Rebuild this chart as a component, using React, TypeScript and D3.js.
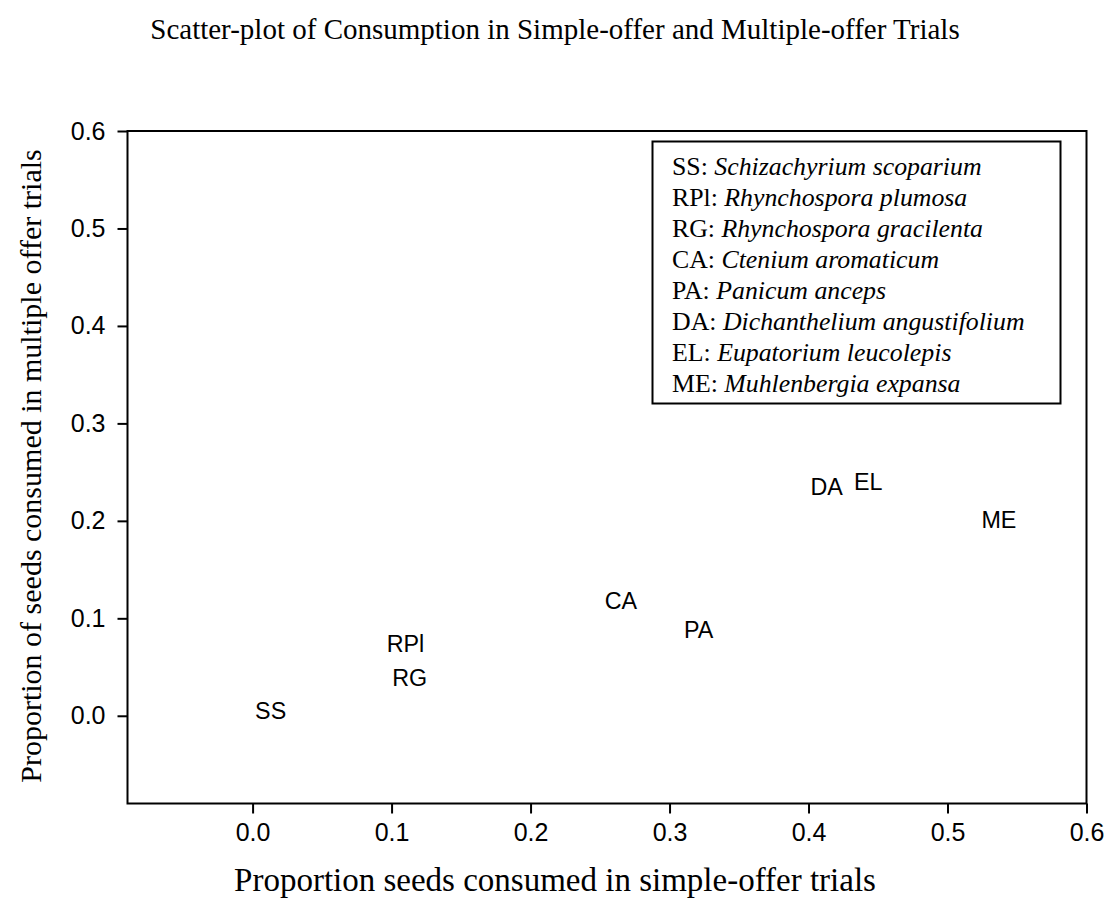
import React, { useEffect, useRef } from 'react'
import * as d3 from 'd3'

// Species codes, proportions consumed in each trial type, legend names
const speciesCodes = ['SS', 'RPl', 'RG', 'CA', 'PA', 'DA', 'EL', 'ME']
const simpleOffer = [0.013, 0.110, 0.113, 0.265, 0.321, 0.413, 0.443, 0.537]
const multipleOffer = [0.005, 0.074, 0.039, 0.118, 0.088, 0.235, 0.240, 0.201]
const speciesNames = [
    'Schizachyrium scoparium',
    'Rhynchospora plumosa',
    'Rhynchospora gracilenta',
    'Ctenium aromaticum',
    'Panicum anceps',
    'Dichanthelium angustifolium',
    'Eupatorium leucolepis',
    'Muhlenbergia expansa'
]
const tickValues = [0.0, 0.1, 0.2, 0.3, 0.4, 0.5, 0.6]

const serif = '"Liberation Serif", "Times New Roman", serif'
const sans = '"Liberation Sans", Arial, sans-serif'

export default function App() {
    const ref = useRef<SVGSVGElement>(null)

    useEffect(() => {
        var width = 1109
        var height = 915
        var left = 127.5
        var right = 1086.5
        var top = 131
        var bottom = 803.5

        var svg = d3.select(ref.current)
        svg.selectAll('*').remove()
        svg.attr('width', width).attr('height', height)

        // Scales
        var xScale = d3.scaleLinear().domain([-0.09, 0.6]).range([left, right])
        var yScale = d3.scaleLinear().domain([-0.09, 0.6]).range([bottom, top])

        // Title
        svg.append('text')
            .text('Scatter-plot of Consumption in Simple-offer and Multiple-offer Trials')
            .attr('x', 555)
            .attr('y', 39)
            .attr('text-anchor', 'middle')
            .attr('font-family', serif)
            .attr('font-size', 29)

        // Axes
        var xAxis = svg.append('g')
            .attr('transform', `translate(0,${bottom})`)
            .call(d3.axisBottom(xScale).tickValues(tickValues).tickFormat(d3.format('.1f')).tickSize(10).tickPadding(10))
        var yAxis = svg.append('g')
            .attr('transform', `translate(${left},0)`)
            .call(d3.axisLeft(yScale).tickValues(tickValues).tickFormat(d3.format('.1f')).tickSize(10).tickPadding(12))

        ;[xAxis, yAxis].forEach(function(axis) {
            axis.select('.domain').remove()
            axis.selectAll('line').attr('stroke', '#000').attr('stroke-width', 2)
            axis.selectAll('text')
                .attr('font-family', sans)
                .attr('font-size', 25)
                .attr('fill', '#000')
        })

        // Frame
        svg.append('rect')
            .attr('x', left)
            .attr('y', top)
            .attr('width', right - left)
            .attr('height', bottom - top)
            .attr('fill', 'none')
            .attr('stroke', '#000')
            .attr('stroke-width', 2)

        // Axis titles
        svg.append('text')
            .text('Proportion seeds consumed in simple-offer trials')
            .attr('x', 555)
            .attr('y', 891)
            .attr('text-anchor', 'middle')
            .attr('font-family', serif)
            .attr('font-size', 33)

        svg.append('text')
            .text('Proportion of seeds consumed in multiple offer trials')
            .attr('transform', 'translate(41,466) rotate(-90)')
            .attr('text-anchor', 'middle')
            .attr('font-family', serif)
            .attr('font-size', 30)

        // Point labels
        speciesCodes.forEach(function(code, i) {
            svg.append('text')
                .text(code)
                .attr('x', xScale(simpleOffer[i]))
                .attr('y', yScale(multipleOffer[i]))
                .attr('dy', '0.36em')
                .attr('text-anchor', 'middle')
                .attr('font-family', sans)
                .attr('font-size', 23.3)
        })

        // Legend
        var legendX = 652.5
        var legendY = 141.5
        var legendW = 408
        var legendH = 262

        svg.append('clipPath')
            .attr('id', 'legend-clip')
            .append('rect')
            .attr('x', legendX)
            .attr('y', legendY)
            .attr('width', legendW)
            .attr('height', legendH - 6)

        var legend = svg.append('g').attr('clip-path', 'url(#legend-clip)')
        speciesCodes.forEach(function(code, i) {
            var t = legend.append('text')
                .attr('x', 672)
                .attr('y', 175 + i * 31)
                .attr('font-family', serif)
                .attr('font-size', 25.8)
            t.append('tspan').text(code + ': ')
            t.append('tspan').attr('font-style', 'italic').text(speciesNames[i])
        })

        svg.append('rect')
            .attr('x', legendX)
            .attr('y', legendY)
            .attr('width', legendW)
            .attr('height', legendH)
            .attr('fill', 'none')
            .attr('stroke', '#000')
            .attr('stroke-width', 2)
    }, [])

    return (
        <svg ref={ref} style={{ position: 'absolute', left: 0, top: 0 }}></svg>
    )
}
